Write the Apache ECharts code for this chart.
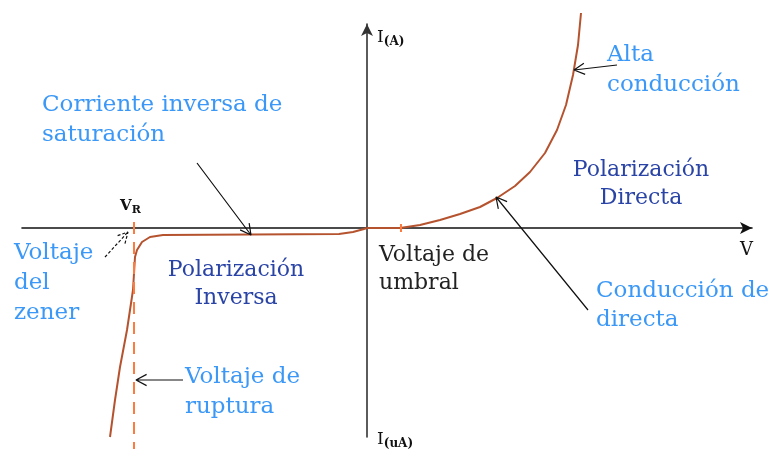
<!DOCTYPE html>
<html>
<head>
<meta charset="utf-8">
<script src="https://cdn.jsdelivr.net/npm/echarts@6/dist/echarts.min.js"></script>
<style>
  html, body { margin: 0; padding: 0; background: #fff; }
  #diodo { width: 782px; height: 449px; }
</style>
</head>
<body>
<div id="diodo"></div>
<script>
var diodo = echarts.init(document.getElementById('diodo'));

// curva directa (V, I)
var voltsFwd = [0, 33, 53, 73, 93, 113, 130, 148, 163, 178, 190, 199, 206, 211, 214];
var ampsFwd  = [0, 0, 3, 8, 14, 21, 30, 42, 56, 75, 98, 123, 153, 183, 215];
// curva inversa (V, I)
var voltsRev = [0, -3, -14, -28, -204, -217, -225, -230, -232, -234, -240, -247, -252, -257];
var ampsRev  = [0, -1, -4, -6, -7, -9, -14, -22, -29, -62, -102, -139, -172, -209];

var vRuptura = -233;   // V_R
var vUmbral = 34;      // voltaje de umbral

// flechas: [desde, hasta]
var arrowsSolid = [
    [[-170, 65], [-116, -7]],     // corriente inversa de saturacion
    [[250, 163], [207, 158]],     // alta conduccion
    [[221, -82], [129, 31]],      // conduccion directa
    [[-184, -152], [-231, -152]]  // voltaje de ruptura
];
var arrowsDashed = [
    [[-262, -29], [-239, -4]]     // voltaje del zener
];

var lightBlue = '#3b98f7';
var darkBlue = '#2a44a6';
var brown = '#b5532f';
var orange = '#ff7a3d';
var serif = '"DejaVu Serif", serif';

function zip(a, b) {
    return a.map(function (v, i) { return [v, b[i]]; });
}

// segmentos de flecha con punta abierta
function arrowData(list) {
    var out = [];
    list.forEach(function (ar) {
        var f = ar[0], t = ar[1];
        var dx = t[0] - f[0], dy = t[1] - f[1];
        var len = Math.sqrt(dx * dx + dy * dy);
        dx /= len; dy /= len;
        var a = 28 * Math.PI / 180, s = 12;
        var b1 = [t[0] - s * (dx * Math.cos(a) - dy * Math.sin(a)), t[1] - s * (dx * Math.sin(a) + dy * Math.cos(a))];
        var b2 = [t[0] - s * (dx * Math.cos(a) + dy * Math.sin(a)), t[1] - s * (-dx * Math.sin(a) + dy * Math.cos(a))];
        out.push(f, t, '-', b1, t, b2, '-');
    });
    return out;
}

function txt(x, y, text, fill, size, align, lh) {
    return {
        type: 'text',
        x: x, y: y,
        style: {
            text: text, fill: fill, font: size + 'px ' + serif,
            align: align || 'left', verticalAlign: 'top', lineHeight: lh || 30
        }
    };
}

var option = {
    animation: false,
    grid: { left: 22, right: 30, top: 24, bottom: 12 },
    xAxis: {
        type: 'value', min: -345, max: 385,
        axisLine: { show: true, onZero: true, symbol: ['none', 'arrow'], symbolSize: [9, 12],
            lineStyle: { color: '#111', width: 1.6 } },
        axisTick: { show: false }, axisLabel: { show: false }, splitLine: { show: false }
    },
    yAxis: {
        type: 'value', min: -209, max: 204,
        axisLine: { show: true, onZero: true, symbol: ['none', 'arrow'], symbolSize: [9, 12],
            lineStyle: { color: '#333', width: 1.6 } },
        axisTick: { show: false }, axisLabel: { show: false }, splitLine: { show: false }
    },
    series: [
        { type: 'line', data: zip(voltsFwd, ampsFwd), showSymbol: false, clip: false,
          lineStyle: { color: brown, width: 2 } },
        { type: 'line', data: zip(voltsRev, ampsRev), showSymbol: false, clip: false,
          lineStyle: { color: brown, width: 2 } },
        { type: 'line', data: [[vRuptura, 6], [vRuptura, -221]], showSymbol: false, clip: false,
          lineStyle: { color: orange, width: 2, type: [12, 8] } },
        { type: 'line', data: [[vRuptura, 6], [vRuptura, -4], '-', [vUmbral, 4], [vUmbral, -4]],
          showSymbol: false, clip: false, lineStyle: { color: orange, width: 2 } },
        { type: 'line', data: arrowData(arrowsSolid), showSymbol: false, clip: false,
          lineStyle: { color: '#111', width: 1.2 } },
        { type: 'line', data: arrowData(arrowsDashed), showSymbol: false, clip: false,
          lineStyle: { color: '#111', width: 1.2, type: [3, 2] } }
    ],
    graphic: [
        txt(42, 90, 'Corriente inversa de\nsaturación', lightBlue, 23),
        txt(14, 238, 'Voltaje\ndel\nzener', lightBlue, 23),
        txt(236, 256, 'Polarización\nInversa', darkBlue, 22, 'center', 28),
        txt(379, 241, 'Voltaje de\numbral', '#222', 22, 'left', 28),
        txt(641, 156, 'Polarización\nDirecta', darkBlue, 22, 'center', 28),
        txt(607, 40, 'Alta\nconducción', lightBlue, 23),
        txt(596, 277, 'Conducción de\ndirecta', lightBlue, 23, 'left', 29),
        txt(185, 362, 'Voltaje de\nruptura', lightBlue, 23),
        {
            type: 'text', x: 120, y: 197,
            style: { text: '{a|V}{b|R}', rich: {
                a: { font: 'bold 15px ' + serif, fill: '#111' },
                b: { font: 'bold 11px ' + serif, fill: '#111', padding: [8, 0, 0, 0] } } }
        },
        {
            type: 'text', x: 377, y: 27,
            style: { text: '{a|I}{b|(A)}', rich: {
                a: { font: '17px ' + serif, fill: '#111' },
                b: { font: 'bold 12px ' + serif, fill: '#111', padding: [9, 0, 0, 0] } } }
        },
        {
            type: 'text', x: 377, y: 429,
            style: { text: '{a|I}{b|(uA)}', rich: {
                a: { font: '17px ' + serif, fill: '#111' },
                b: { font: 'bold 12px ' + serif, fill: '#111', padding: [9, 0, 0, 0] } } }
        },
        txt(740, 235, 'V', '#111', 18)
    ]
};

diodo.setOption(option);
</script>
</body>
</html>
